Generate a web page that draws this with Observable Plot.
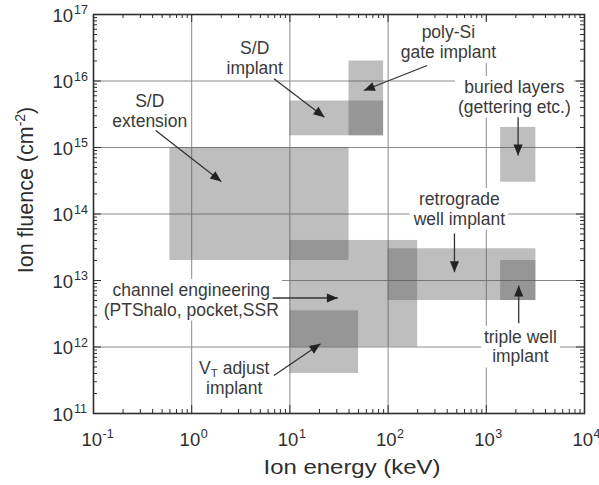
<!DOCTYPE html>
<html>
<head>
<meta charset="utf-8">
<script src="https://cdn.jsdelivr.net/npm/d3@7"></script>
<script src="https://cdn.jsdelivr.net/npm/@observablehq/plot@0.6"></script>
<style>
  html, body { margin: 0; padding: 0; background: #fff; }
</style>
</head>
<body>
<div id="chart"></div>
<script>
// ---------- data ----------
const regionNames = ["S/D extension", "S/D implant", "poly-Si gate implant", "buried layers",
                     "channel engineering", "VT adjust implant", "retrograde well implant", "triple well implant"];
const energyMin  = [0.6, 10, 40, 1400, 10, 10, 100, 1400];      // keV
const energyMax  = [40, 90, 90, 3200, 200, 50, 3200, 3200];     // keV
const fluenceMin = [2e13, 1.5e15, 1.5e15, 3e14, 1e12, 4e11, 5e12, 5e12];   // cm^-2
const fluenceMax = [1e15, 5e15, 2e16, 2e15, 4e13, 3.5e12, 3e13, 2e13];     // cm^-2

const labelText = ["S/D\nextension", "S/D\nimplant", "poly-Si\ngate implant", "buried layers\n(gettering etc.)",
                   "channel engineering\n(PTShalo, pocket,SSR", "VT adjust\nimplant", "retrograde\nwell implant",
                   "triple well\nimplant"];
const labelEnergy  = [0.374, 4.38, 411, 1932, 0.99, 2.71, 532, 2222];
const labelFluence = [3.54e15, 2.26e16, 3.86e16, 5.85e15, 5.18e12, 3.42e11, 1.21e14, 1.02e12];

const arrowFromEnergy  = [0.43, 6.88, 250, 2108, 6.67, 6.88, 474, 2138];
const arrowFromFluence = [1.80e15, 1.08e16, 1.71e16, 2.86e15, 5.46e12, 3.73e11, 5.09e13, 2.28e12];
const arrowToEnergy    = [2.0, 22.5, 56.6, 2108, 30.8, 20.5, 474, 2138];
const arrowToFluence   = [3.08e14, 2.86e15, 7.2e15, 7.6e14, 5.46e12, 1.12e12, 1.33e13, 8.4e12];

const xDecades = [-1, 0, 1, 2, 3, 4];
const yDecades = [11, 12, 13, 14, 15, 16, 17];
const minorMultipliers = [2, 3, 4, 5, 6, 7, 8, 9];

const xTitle = "Ion energy (keV)";
const yTitle = "Ion fluence (cm-2)";

// ---------- tables ----------
const regions = regionNames.map((name, i) => ({name, e0: energyMin[i], e1: energyMax[i], f0: fluenceMin[i], f1: fluenceMax[i]}));
const labels = labelText.map((t, i) => ({t, e: labelEnergy[i], f: labelFluence[i]}));
const arrows = arrowFromEnergy.map((_, i) => ({e0: arrowFromEnergy[i], f0: arrowFromFluence[i], e1: arrowToEnergy[i], f1: arrowToFluence[i]}));
const xMajor = xDecades.map(k => 10 ** k);
const yMajor = yDecades.map(k => 10 ** k);
const minorOf = ds => ds.slice(0, -1).flatMap(k => minorMultipliers.map(m => m * 10 ** k));
const xMinor = minorOf(xDecades);
const yMinor = minorOf(yDecades);
const expText = d => (d < 0 ? "-" + Math.abs(d) : String(d));

// ---------- layout ----------
const W = 599, H = 485, mL = 93, mR = 15, mT = 14, mB = 72;
const innerW = W - mL - mR, innerH = H - mT - mB;
const font = "'Liberation Sans', Arial, Helvetica, sans-serif";
const ink = "#2e2e2e";
const majorLen = 8, minorLen = 4;

const tickMarks = [
  Plot.ruleX(xMajor, {insetTop: innerH - majorLen, stroke: ink}),
  Plot.ruleX(xMajor, {insetBottom: innerH - majorLen, stroke: ink}),
  Plot.ruleX(xMinor, {insetTop: innerH - minorLen, stroke: ink}),
  Plot.ruleX(xMinor, {insetBottom: innerH - minorLen, stroke: ink}),
  Plot.ruleY(yMajor, {insetRight: innerW - majorLen, stroke: ink}),
  Plot.ruleY(yMajor, {insetLeft: innerW - majorLen, stroke: ink}),
  Plot.ruleY(yMinor, {insetRight: innerW - minorLen, stroke: ink}),
  Plot.ruleY(yMinor, {insetLeft: innerW - minorLen, stroke: ink})
];

const arrowMark = Plot.link(arrows, {
  x1: "e0", y1: "f0", x2: "e1", y2: "f1",
  stroke: "#333", strokeWidth: 1.3,
  render(index, scales, values, dimensions, context, next) {
    const g = next(index, scales, values, dimensions, context);
    const X1 = values.x1, Y1 = values.y1, X2 = values.x2, Y2 = values.y2;
    const ns = "http://www.w3.org/2000/svg";
    for (const i of index) {
      const a = Math.atan2(Y2[i] - Y1[i], X2[i] - X1[i]);
      const L = 11, w = 4.6;
      const tx = X2[i], ty = Y2[i];
      const bx = tx - L * Math.cos(a), by = ty - L * Math.sin(a);
      const px = -Math.sin(a) * w, py = Math.cos(a) * w;
      const p = document.createElementNS(ns, "polygon");
      p.setAttribute("points", `${tx},${ty} ${bx + px},${by + py} ${bx - px},${by - py}`);
      p.setAttribute("fill", "#222");
      p.setAttribute("stroke", "none");
      g.appendChild(p);
    }
    return g;
  }
});

const chart = Plot.plot({
  width: W, height: H,
  marginLeft: mL, marginRight: mR, marginTop: mT, marginBottom: mB,
  style: {fontFamily: font, background: "#fff", overflow: "visible"},
  x: {type: "log", domain: [0.1, 1e4], axis: null},
  y: {type: "log", domain: [1e11, 1e17], axis: null},
  marks: [
    Plot.ruleX(xMajor, {stroke: "#8c8c8c", strokeWidth: 1}),
    Plot.ruleY(yMajor, {stroke: "#8c8c8c", strokeWidth: 1}),
    Plot.rect(regions, {x1: "e0", x2: "e1", y1: "f0", y2: "f1", fill: "#555", fillOpacity: 0.38, title: "name"}),
    Plot.text(labels, {x: "e", y: "f", text: "t", fontSize: 17.5, lineHeight: 1.12, lineAnchor: "middle",
                       fill: "#3a3a3a"}),
    arrowMark,
    ...tickMarks,
    // x tick labels
    Plot.text(xDecades, {x: d => 10 ** d, text: () => "10", frameAnchor: "bottom", textAnchor: "end",
                         lineAnchor: "middle", dx: 8.5, dy: 26.5, fontSize: 18.5, fill: ink}),
    Plot.text(xDecades, {x: d => 10 ** d, text: expText, frameAnchor: "bottom", textAnchor: "start",
                         lineAnchor: "middle", dx: 9, dy: 20, fontSize: 12.5, fill: ink}),
    // y tick labels
    Plot.text(yDecades, {y: d => 10 ** d, text: () => "10", frameAnchor: "left", textAnchor: "end",
                         lineAnchor: "middle", dx: -20.5, dy: 1.5, fontSize: 18.5, fill: ink}),
    Plot.text(yDecades, {y: d => 10 ** d, text: expText, frameAnchor: "left", textAnchor: "start",
                         lineAnchor: "middle", dx: -19.5, dy: -4.5, fontSize: 12.5, fill: ink}),
    // axis titles
    Plot.text([xTitle], {frameAnchor: "bottom", textAnchor: "middle", dx: 13, dy: 54, lineAnchor: "middle",
                         fontSize: 21, fill: ink}),
    Plot.text([yTitle], {frameAnchor: "left", textAnchor: "middle", dx: -67, dy: -24, rotate: -90,
                         lineAnchor: "middle", fontSize: 21.5, fill: ink}),
    Plot.frame({stroke: ink, strokeWidth: 1.6})
  ]
});

document.getElementById("chart").append(chart);

// ---------- text refinements (subscript / superscript, white label boxes) ----------
const ns = "http://www.w3.org/2000/svg";
function tspan(txt, attrs) {
  const s = document.createElementNS(ns, "tspan");
  for (const k in attrs) s.setAttribute(k, attrs[k]);
  s.textContent = txt;
  return s;
}
const labelKeys = new Set(labelText.map(t => t.replace("\n", "")));
const allTexts = Array.from(chart.querySelectorAll("text"));
const annotationTexts = allTexts.filter(t => labelKeys.has(t.textContent));

// V_T subscript
annotationTexts.forEach(t => {
  t.querySelectorAll("tspan").forEach(el => {
    if (el.textContent === "VT adjust") {
      el.textContent = "V";
      el.appendChild(tspan("T", {"font-size": 11.5, dy: 3}));
      el.appendChild(tspan(" adjust", {dy: -3}));
    }
  });
});
// axis titles: cm^-2 superscript, x title stretched as in the reference
allTexts.forEach(t => {
  if (t.textContent === yTitle) {
    t.textContent = "Ion fluence (cm";
    t.appendChild(tspan("-2", {"font-size": 14, dy: -8}));
    t.appendChild(tspan(")", {dy: 8}));
  } else if (t.textContent === xTitle) {
    t.setAttribute("textLength", 177);
    t.setAttribute("lengthAdjust", "spacingAndGlyphs");
  }
});
// white boxes behind annotation labels
annotationTexts.forEach(t => {
  const b = t.getBBox();
  const pad = 3;
  const r = document.createElementNS(ns, "rect");
  r.setAttribute("x", b.x - pad);
  r.setAttribute("y", b.y - pad + 2);
  r.setAttribute("width", b.width + 2 * pad);
  r.setAttribute("height", b.height + 2 * pad - 4);
  r.setAttribute("fill", "#fff");
  const tr = t.getAttribute("transform");
  if (tr) r.setAttribute("transform", tr);
  t.parentNode.insertBefore(r, t);
});
</script>
</body>
</html>
